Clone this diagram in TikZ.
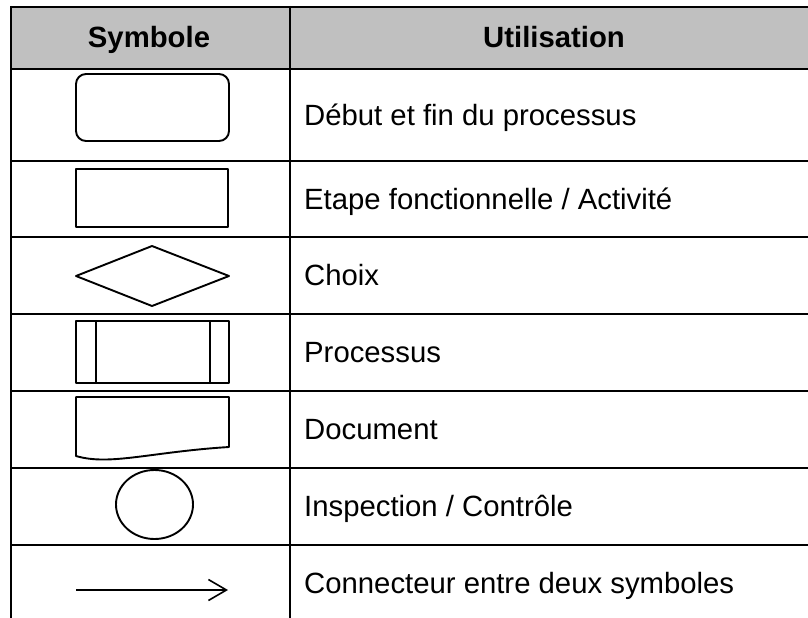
\documentclass[tikz,border=0pt]{standalone}
\usepackage{fontspec}
\setmainfont{Liberation Sans}
\usetikzlibrary{arrows.meta}
\definecolor{headgray}{HTML}{C0C0C0}
\tikzset{
  rule/.style={line width=2pt, black},
  headrule/.style={line width=2.6pt, black},
  symb/.style={line width=1.9pt, black, line join=round},
  headtext/.style={anchor=base, inner sep=0pt, font=\fontsize{29.3}{35}\selectfont\bfseries},
  bodytext/.style={anchor=base west, inner sep=0pt, font=\fontsize{29.3}{35}\selectfont},
}
\begin{document}
\begin{tikzpicture}[x=1pt, y=-1pt]
\useasboundingbox (0,0) rectangle (808,618);

% header band
\fill[headgray] (11,7) rectangle (808,69);

% grid lines
\draw[rule] (11,7) -- (808,7);
\draw[headrule] (11,69) -- (808,69);
\foreach \yy in {161,237,314,391,468,545} \draw[rule] (11,\yy) -- (808,\yy);
\draw[rule] (11,6) -- (11,618);
\draw[rule] (290,6) -- (290,618);

% column headings
\node[headtext] (hsym) at (149,48) {Symbole};
\node[headtext] (huse) at (554,48) {Utilisation};

% symbols
\draw[symb, rounded corners=10pt] (76,74) rectangle (229,141);
\draw[symb] (76,169) rectangle (228,227);
\draw[symb] (76,276) -- (152,246) -- (229,276) -- (152,306) -- cycle;
\draw[symb] (76,321) rectangle (229,383);
\draw[symb] (96,321) -- (96,383);
\draw[symb] (210,321) -- (210,383);
\draw[symb] (229,447) -- (229,397) -- (76,397) -- (76,456)
  .. controls (110,466) and (150,452) .. (229,447) -- cycle;
\draw[symb] (154.5,504.5) ellipse [x radius=38.5, y radius=34.5];
\coordinate (arrA) at (76,590);
\coordinate (arrB) at (228,590);
\draw[line width=1.6pt, -{Straight Barb[length=18pt, width=21pt, line width=1.6pt]}] (arrA) -- (arrB);

% descriptions
\node[bodytext] (t1) at (304,125) {Début et fin du processus};
\node[bodytext] (t2) at (304,209.5) {Etape fonctionnelle / Activité};
\node[bodytext] (t3) at (304,285.5) {Choix};
\node[bodytext] (t4) at (304,362.5) {Processus};
\node[bodytext] (t5) at (304,439.5) {Document};
\node[bodytext] (t6) at (304,516) {Inspection / Contrôle};
\node[bodytext] (t7) at (304,593) {Connecteur entre deux symboles};
\end{tikzpicture}
\end{document}
